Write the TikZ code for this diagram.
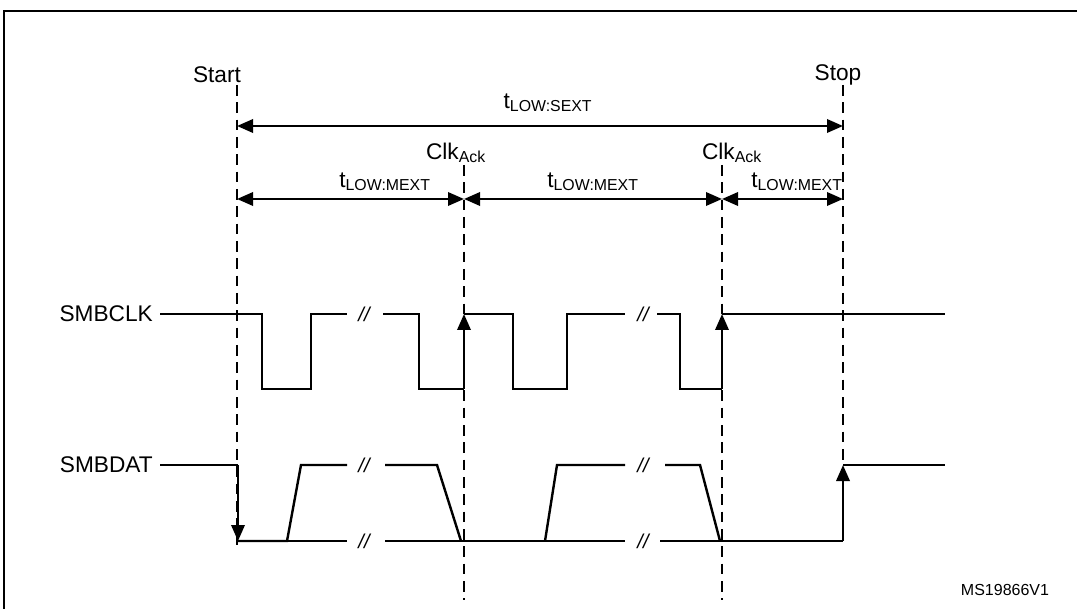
\documentclass[tikz,border=0pt]{standalone}
\usepackage{fontspec}
\setmainfont{Liberation Sans}
\usetikzlibrary{arrows.meta}
\begin{document}
\begin{tikzpicture}[x=0.75pt,y=-0.75pt,
  sig/.style={line width=1.8pt},
  dsh/.style={line width=1.1pt,dash pattern=on 8pt off 5pt},
  dim/.style={line width=1.8pt,{Triangle[length=12pt,width=10pt]}-{Triangle[length=12pt,width=10pt]}},
  arr/.style={line width=1.8pt,-{Triangle[length=12pt,width=10pt]}},
  lbl/.style={font=\fontsize{17}{20}\selectfont,inner sep=0pt},
  brk/.style={font=\fontsize{15}{18}\selectfont\itshape,inner sep=0pt}]
\useasboundingbox (0,0) rectangle (1077,609);
\fill[white] (0,0) rectangle (1077,609);
\draw[line width=1.5pt] (4,1000) -- (4,11) -- (1100,11);
% dashed markers
\coordinate (s0) at (237,85); \coordinate (s1) at (237,545);
\coordinate (c0) at (464,165); \coordinate (c1) at (464,600);
\coordinate (d0) at (722,165); \coordinate (d1) at (722,600);
\coordinate (p0) at (843,85); \coordinate (p1) at (843,465);
\draw[dsh] (s0)--(s1); \draw[dsh] (c0)--(c1); \draw[dsh] (d0)--(d1); \draw[dsh] (p0)--(p1);
\node[lbl] (start) at (217,75) {Start};
\node[lbl] (stop) at (838,75) {Stop};
\node[lbl] (sext) at (548,103) {t\textsubscript{LOW:SEXT}};
\coordinate (a1) at (237,126); \coordinate (a2) at (843,126);
\draw[dim] (a1)--(a2);
\node[lbl] (ck1) at (456,153) {Clk\textsubscript{Ack}};
\node[lbl] (ck2) at (732,153) {Clk\textsubscript{Ack}};
\coordinate (m1) at (237,199); \coordinate (m2) at (464,199);
\coordinate (m3) at (722,199); \coordinate (m4) at (843,199);
\draw[dim] (m1)--(m2); \draw[dim] (m2)--(m3); \draw[dim] (m3)--(m4);
\node[lbl] (ma) at (385,182) {t\textsubscript{LOW:MEXT}};
\node[lbl] (mb) at (593,182) {t\textsubscript{LOW:MEXT}};
\node[lbl] (mc) at (797,182) {t\textsubscript{LOW:MEXT}};
% SMBCLK
\node[lbl,anchor=east] (clk) at (153,314) {SMBCLK};
\draw[sig] (clk.east)++(7,0) -- (262,314) -- (262,389) -- (311,389) -- (311,314) -- (347,314);
\node[brk] (b1) at (364,314) {//};
\draw[sig] (383,314) -- (419,314) -- (419,389) -- (464,389);
\draw[arr] (464,389) -- (464,314);
\draw[sig] (464,314) -- (513,314) -- (513,389) -- (567,389) -- (567,314) -- (625,314);
\node[brk] (b2) at (643,314) {//};
\draw[sig] (657,314) -- (680,314) -- (680,389) -- (722,389);
\draw[arr] (722,389) -- (722,314);
\draw[sig] (722,314) -- (945,314);
% SMBDAT
\node[lbl,anchor=east] (dat) at (153,465) {SMBDAT};
\draw[sig] (dat.east)++(7,0) -- (238,465);
\draw[arr] (238,465) -- (238,541);
\draw[sig] (238,541) -- (287,541) -- (301,465) -- (347,465);
\node[brk] (b3) at (364,465) {//};
\draw[sig] (385,465) -- (437,465) -- (461,541);
\draw[sig] (238,541) -- (347,541);
\node[brk] (b4) at (364,541) {//};
\draw[sig] (385,541) -- (625,541);
\draw[sig] (545,541) -- (557,465) -- (625,465);
\node[brk] (b5) at (643,465) {//};
\draw[sig] (665,465) -- (700,465) -- (720,541);
\node[brk] (b6) at (643,541) {//};
\draw[sig] (660,541) -- (843,541);
\draw[arr] (843,541) -- (843,465);
\draw[sig] (843,465) -- (945,465);
\node[font=\fontsize{12}{14}\selectfont,inner sep=0pt] (ms) at (1005,590) {MS19866V1};
\end{tikzpicture}
\end{document}
